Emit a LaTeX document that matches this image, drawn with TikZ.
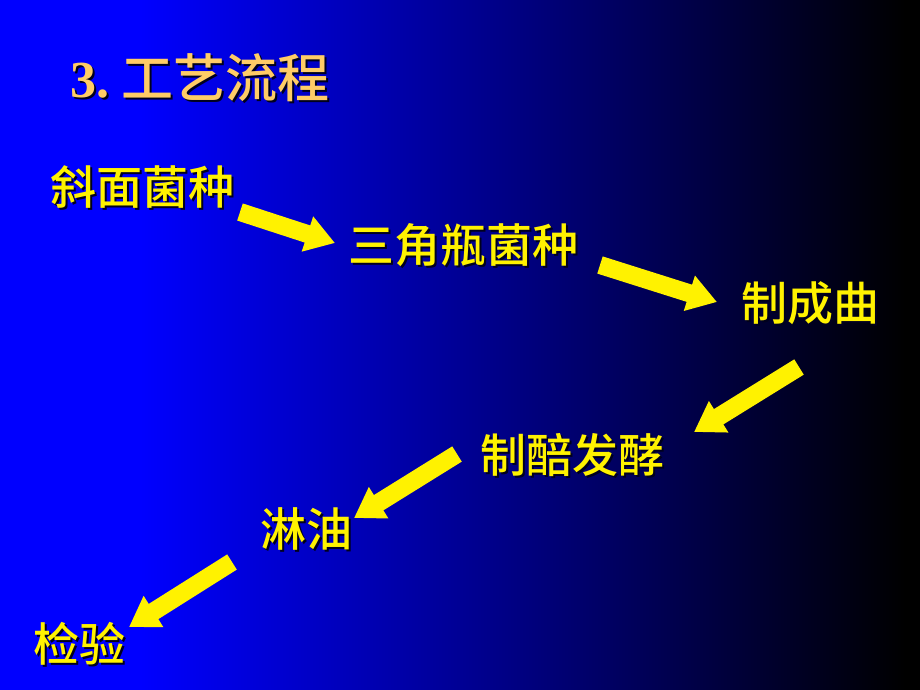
\documentclass[tikz,border=0pt]{standalone}
\usepackage{fontspec}
\usetikzlibrary{arrows.meta}
\newfontfamily\cjk{Noto Sans CJK SC Medium}
\newfontfamily\latin{Liberation Serif}
\definecolor{gold}{RGB}{255,204,102}
\definecolor{shadowc}{RGB}{0,0,30}
% text with a small drop shadow
\newcommand\shadowed[2]{\makebox[0pt][l]{\kern2pt\raisebox{-2pt}{\color{shadowc}#2}}\textcolor{#1}{#2}}

\begin{document}
\begin{tikzpicture}[x=1pt,y=-1pt,
                    flow/.style={-{Triangle[length=29pt,width=35pt]},line width=18pt,yellow}]
  \tikzstyle{stage}=[inner sep=0pt,font=\cjk\fontsize{46}{46}\selectfont]

  \useasboundingbox (0,0) rectangle (920,690);
  % background
  \fill[blue] (0,0) rectangle (140,690);
  \shade[left color=blue,right color=black] (140,0) rectangle (905,690);
  \fill[black] (905,0) rectangle (920,690);

  \node[anchor=base west,inner sep=0pt,font=\fontsize{52}{52}\selectfont] (title) at (70,98)
        {\shadowed{gold}{\latin\bfseries 3.}\kern12pt\shadowed{gold}{\cjk 工艺流程}};

  \node[stage] (A) at (142,188) {\shadowed{yellow}{斜面菌种}};
  \node[stage] (B) at (463,246) {\shadowed{yellow}{三角瓶菌种}};
  \node[stage] (C) at (810,304) {\shadowed{yellow}{制成曲}};
  \node[stage] (D) at (572,456) {\shadowed{yellow}{制醅发酵}};
  \node[stage] (E) at (306,530) {\shadowed{yellow}{淋油}};
  \node[stage] (F) at (79,645)  {\shadowed{yellow}{检验}};

  \coordinate (a1) at (240,212); \coordinate (b1) at (335,243);
  \coordinate (a2) at (600,265); \coordinate (b2) at (717,302);
  \coordinate (a3) at (799,367); \coordinate (b3) at (694,432);
  \coordinate (a4) at (457,454); \coordinate (b4) at (354,518);
  \coordinate (a5) at (232,562); \coordinate (b5) at (129,627);

  \draw[flow] (a1) -- (b1);
  \draw[flow] (a2) -- (b2);
  \draw[flow] (a3) -- (b3);
  \draw[flow] (a4) -- (b4);
  \draw[flow] (a5) -- (b5);
\end{tikzpicture}
\end{document}
